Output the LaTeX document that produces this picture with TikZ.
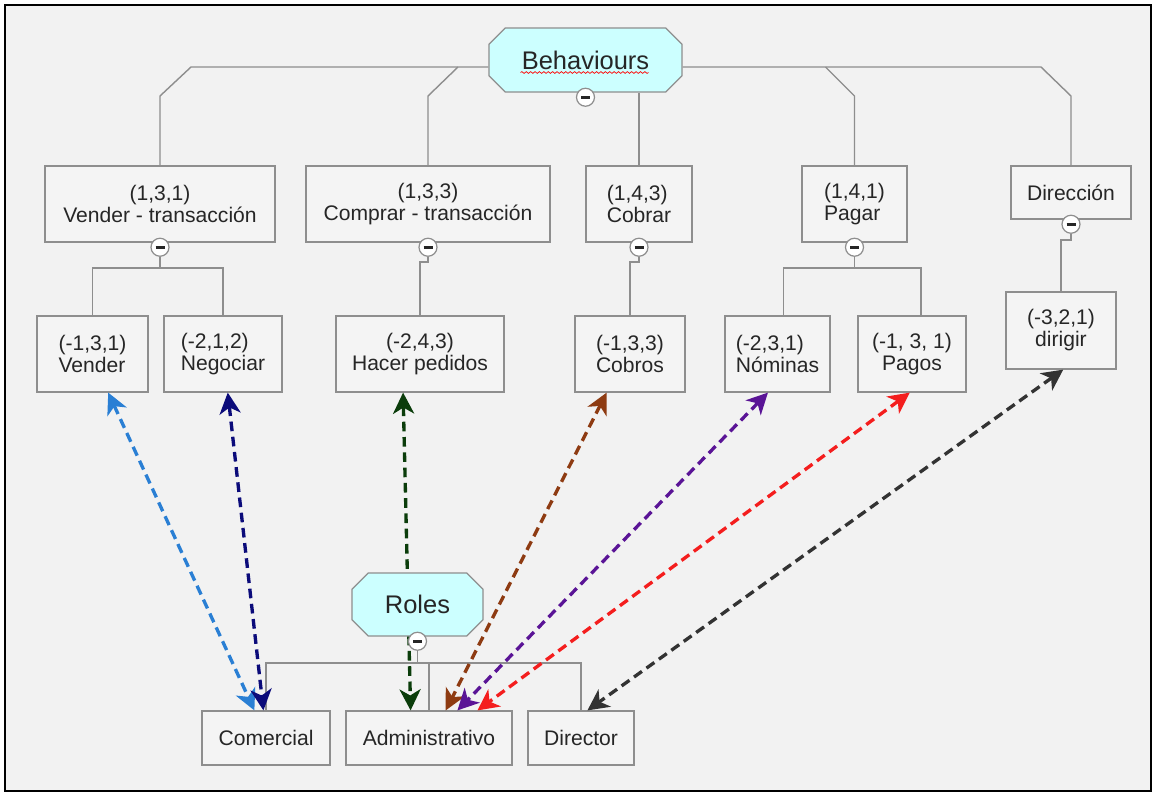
\documentclass[tikz,border=0pt]{standalone}
\usepackage{fontspec}
\setmainfont{Liberation Sans}
\usetikzlibrary{shapes.misc, arrows.meta, positioning, calc, decorations.pathmorphing}

\definecolor{bgcol}{HTML}{F2F2F2}
\definecolor{boxfill}{HTML}{F4F4F4}
\definecolor{linegray}{HTML}{8E8E8E}
\definecolor{headfill}{HTML}{CCFFFF}
\definecolor{txtcol}{HTML}{262626}
\definecolor{cvender}{HTML}{2A7FD4}
\definecolor{cnegociar}{HTML}{0B0B7A}
\definecolor{chacer}{HTML}{0B3D0B}
\definecolor{ccobros}{HTML}{8E3B12}
\definecolor{cnominas}{HTML}{5A1496}
\definecolor{cpagos}{HTML}{F41E1E}
\definecolor{cdirigir}{HTML}{333333}

\begin{document}
\begin{tikzpicture}[x=0.02cm, y=-0.02cm,
    box/.style={rectangle, draw=linegray, fill=boxfill, line width=0.7pt, minimum height=1.52cm, text centered, text=txtcol, font=\fontsize{12}{12.5}\selectfont, inner sep=1pt},
    head/.style={chamfered rectangle, chamfered rectangle xsep=0.2cm, draw=linegray, fill=headfill, line width=0.7pt, text=txtcol, font=\fontsize{14.5}{16}\selectfont},
    minus/.style={circle, draw=linegray, fill=white, line width=0.7pt, minimum size=0.36cm, inner sep=0pt, path picture={\draw[txtcol, line width=1.5pt] ([xshift=-0.09cm]path picture bounding box.center) -- ([xshift=0.09cm]path picture bounding box.center);}},
    tree/.style={draw=linegray, line width=0.8pt},
    darrow/.style={line width=1.9pt, dash pattern=on 5.5pt off 3.2pt, {Stealth[length=12pt,width=12pt,inset=3.5pt]}-{Stealth[length=12pt,width=12pt,inset=3.5pt]}}
    ]

    % 背景
    \fill [white] (0,0) rectangle (1156,796);
    \draw [black, line width=0.8pt, fill=bgcol] (5,5) rectangle (1151,791);

    % 顶部节点
    \node (behav) [head, minimum width=3.86cm, minimum height=1.28cm] at (585.5,60) {Behaviours};
    \draw [red, line width=0.4pt, decorate, decoration={snake, amplitude=0.5pt, segment length=2.5pt}] ([xshift=-1.3cm, yshift=-0.25cm]behav.center) -- ([xshift=1.26cm, yshift=-0.25cm]behav.center);
    \node (mbehav) [minus, below=-1mm of behav] {};

    % 第一层
    \node (vendertr) [box, minimum width=4.6cm, align=center] at (160,204) {(1,3,1)\\Vender - transacción};
    \node (comprartr) [box, minimum width=4.88cm, align=center] at (428,204) {(1,3,3)\\Comprar - transacción};
    \node (cobrar) [box, minimum width=2.12cm, align=left] at (639,204) {(1,4,3)\\Cobrar};
    \node (pagar) [box, minimum width=2.1cm, align=left] at (854.5,204) {(1,4,1)\\Pagar};
    \node (direccion) [box, minimum width=2.4cm, minimum height=1.06cm] at (1071,192.5) {Dirección};

    \node (mvendertr) [minus, below=-1mm of vendertr] {};
    \node (mcomprartr) [minus, below=-1mm of comprartr] {};
    \node (mcobrar) [minus, below=-1mm of cobrar] {};
    \node (mpagar) [minus, below=-1mm of pagar] {};
    \node (mdireccion) [minus, below=-1mm of direccion] {};

    % 第二层
    \node (vender) [box, minimum width=2.22cm, align=left] at (92.5,354) {(-1,3,1)\\Vender};
    \node (negociar) [box, minimum width=2.36cm, align=left] at (223,354) {(-2,1,2)\\Negociar};
    \node (hacer) [box, minimum width=3.36cm, align=center] at (420,354) {(-2,4,3)\\Hacer pedidos};
    \node (cobros) [box, minimum width=2.2cm, align=left] at (630,354) {(-1,3,3)\\Cobros};
    \node (nominas) [box, minimum width=2.1cm, align=left] at (777.5,354) {(-2,3,1)\\Nóminas};
    \node (pagos) [box, minimum width=2.16cm, align=center] at (912,354) {(-1, 3, 1)\\Pagos};
    \node (dirigir) [box, minimum width=2.2cm, minimum height=1.54cm, align=center] at (1061,330.5) {(-3,2,1)\\dirigir};

    % 角色
    \node (comercial) [box, minimum width=2.56cm, minimum height=1.08cm] at (266,738) {Comercial};
    \node (administ) [box, minimum width=3.32cm, minimum height=1.08cm] at (429,738) {Administrativo};
    \node (director) [box, minimum width=2.12cm, minimum height=1.08cm] at (581,738) {Director};

    \draw [darrow, chacer] ($(hacer.south west)!0.40!(hacer.south east)$) -- ($(administ.north west)!0.39!(administ.north east)$);

    \node (roles) [head, chamfered rectangle xsep=0.2cm, minimum width=2.62cm, minimum height=1.26cm] at (417.5,604.5) {Roles};
    \node (mroles) [minus, below=-1mm of roles] {};

    % 树形连线
    \coordinate (h1) at ([yshift=-0.14cm]behav.west);
    \coordinate (h1r) at ([yshift=-0.14cm]behav.east);
    \coordinate (h2) at (0,268);
    \coordinate (h3) at (0,663);

    \draw [tree] (h1) -- ($(vendertr.north |- h1)+(31,0)$) -- ($(vendertr.north |- h1)+(0,29)$) -- (vendertr.north);
    \draw [tree] ($(comprartr.north |- h1)+(30,0)$) -- ($(comprartr.north |- h1)+(0,29)$) -- (comprartr.north);
    \draw [tree] (cobrar.north |- behav.south) -- (cobrar.north);
    \draw [tree] (h1r) -- ($(direccion.north |- h1)+(-30,0)$) -- ($(direccion.north |- h1)+(0,29)$) -- (direccion.north);
    \draw [tree] ($(pagar.north |- h1)+(-29,0)$) -- ($(pagar.north |- h1)+(0,29)$) -- (pagar.north);

    \draw [tree] (mvendertr.south) -- (mvendertr.south |- h2);
    \draw [tree] (vender.north) -- (vender.north |- h2) -- (negociar.north |- h2) -- (negociar.north);
    \draw [tree] (mcomprartr.south) -- ++(0,-0.1cm) -| (hacer.north);
    \draw [tree] (mcobrar.south) -- ++(0,-0.1cm) -| (cobros.north);
    \coordinate (nomtop) at ([xshift=0.12cm]nominas.north);
    \coordinate (pagtop) at ([xshift=0.18cm]pagos.north);
    \draw [tree] (mpagar.south) -- (mpagar.south |- h2);
    \draw [tree] (nomtop) -- (nomtop |- h2) -- (pagtop |- h2) -- (pagtop);
    \draw [tree] (mdireccion.south) -- ++(0,-0.12cm) -| (dirigir.north);

    \draw [tree] (mroles.south) -- (mroles.south |- h3);
    \draw [tree] (comercial.north) -- (comercial.north |- h3) -- (director.north |- h3) -- (director.north);
    \draw [tree] (administ.north) -- (administ.north |- h3);

    % 虚线双向箭头
    \draw [darrow, cvender] ($(vender.south west)!0.64!(vender.south east)$) -- ($(comercial.north west)!0.41!(comercial.north east)$);
    \draw [darrow, cnegociar] ($(negociar.south west)!0.54!(negociar.south east)$) -- ($(comercial.north west)!0.48!(comercial.north east)$);
    \draw [darrow, ccobros] ($(cobros.south west)!0.29!(cobros.south east)$) -- ($(administ.north west)!0.60!(administ.north east)$);
    \draw [darrow, cnominas] ($(nominas.south west)!0.41!(nominas.south east)$) -- ($(administ.north west)!0.67!(administ.north east)$);
    \draw [darrow, cpagos] ($(pagos.south west)!0.48!(pagos.south east)$) -- ($(administ.north west)!0.79!(administ.north east)$);
    \draw [darrow, cdirigir] ($(dirigir.south west)!0.52!(dirigir.south east)$) -- ($(director.north west)!0.56!(director.north east)$);

\end{tikzpicture}
\end{document}
